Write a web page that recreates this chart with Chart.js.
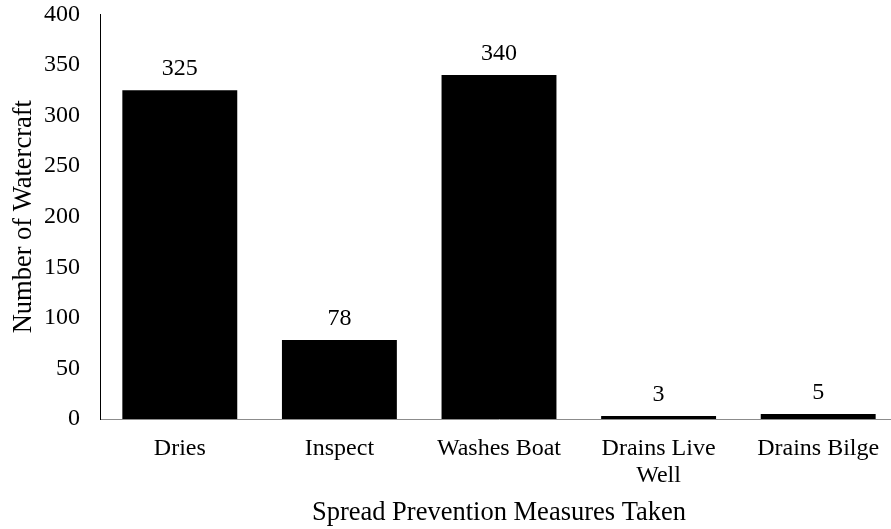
<!DOCTYPE html>
<html>
<head>
<meta charset="utf-8">
<script src="https://cdn.jsdelivr.net/npm/chart.js@4"></script>
<style>
html,body{margin:0;padding:0;overflow:hidden;background:#fff;}
#wrap{position:relative;width:900px;height:529px;}
</style>
</head>
<body>
<div id="wrap"><canvas id="c"></canvas></div>
<script>
const categories = ["Dries", "Inspect", "Washes Boat", ["Drains Live", "Well"], "Drains Bilge"];
const values = [325, 78, 340, 3, 5];
const yTicks = [0, 50, 100, 150, 200, 250, 300, 350, 400];
const xTitle = "Spread Prevention Measures Taken";
const yTitle = "Number of Watercraft";

const FONT = "'Liberation Serif', 'Times New Roman', serif";
const FS = 24;
const TFS = 26.5;

const valueLabels = {
  id: 'valueLabels',
  afterDatasetsDraw(chart) {
    const ctx = chart.ctx;
    const meta = chart.getDatasetMeta(0);
    ctx.save();
    ctx.font = FS + "px " + FONT;
    ctx.fillStyle = "#000";
    ctx.textAlign = "center";
    ctx.textBaseline = "alphabetic";
    meta.data.forEach((bar, i) => {
      ctx.fillText(String(values[i]), bar.x, bar.y - 15);
    });
    ctx.restore();
  }
};

new Chart(document.getElementById('c'), {
  type: 'bar',
  data: {
    labels: categories,
    datasets: [{
      data: values,
      backgroundColor: '#000',
      borderWidth: 0,
      categoryPercentage: 1.0,
      barPercentage: 0.72
    }]
  },
  options: {
    responsive: true,
    maintainAspectRatio: false,
    animation: false,
    layout: { padding: { top: 0, right: 2, left: 0, bottom: 0 } },
    plugins: {
      legend: { display: false },
      tooltip: { enabled: false }
    },
    scales: {
      x: {
        grid: { display: false, drawTicks: false },
        border: { display: true, color: '#8c8c8c', width: 1 },
        ticks: {
          color: '#000',
          font: { family: FONT, size: FS, lineHeight: 1.1 },
          padding: 17,
          maxRotation: 0,
          autoSkip: false
        },
        title: {
          display: true,
          text: xTitle,
          color: '#000',
          font: { family: FONT, size: TFS },
          padding: { top: 0, bottom: 0 }
        },
        afterFit(scale) { scale.height = 110; }
      },
      y: {
        min: 0,
        max: 400,
        afterBuildTicks(scale) { scale.ticks = yTicks.map(v => ({ value: v })); },
        grid: { display: false, drawTicks: true, tickLength: 20 },
        border: { display: true, color: '#000', width: 1 },
        ticks: {
          color: '#000',
          font: { family: FONT, size: FS },
          padding: 0
        },
        title: {
          display: true,
          text: yTitle,
          color: '#000',
          font: { family: FONT, size: TFS },
          padding: { top: 8, bottom: 0 }
        },
        afterFit(scale) { scale.width = 100; }
      }
    }
  },
  plugins: [valueLabels]
});
</script>
</body>
</html>
